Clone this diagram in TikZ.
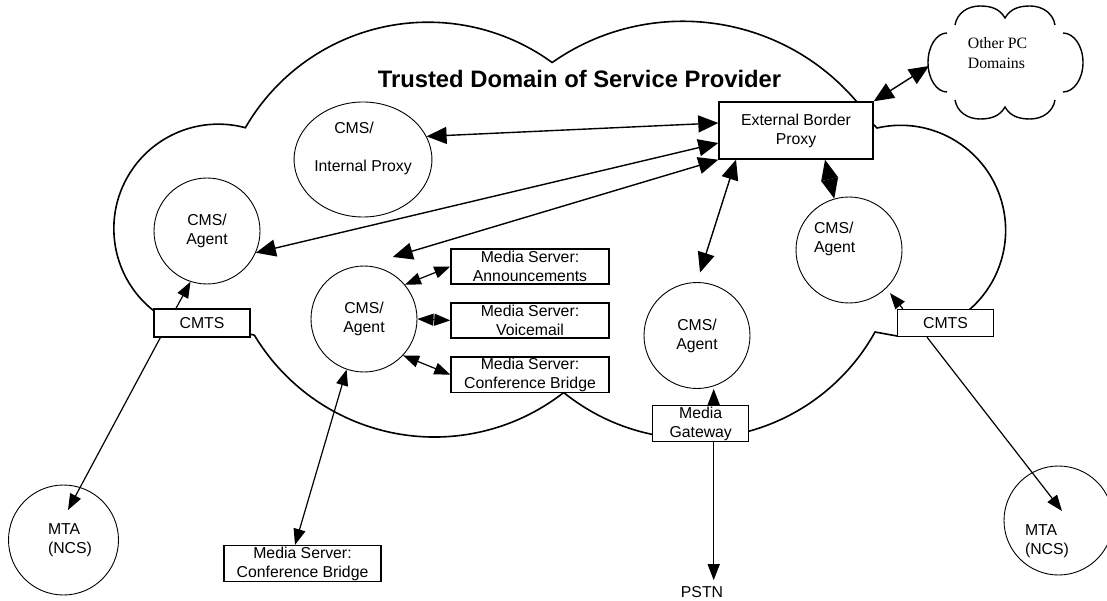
\documentclass[tikz,border=0pt]{standalone}
\usepackage{fontspec}
\setmainfont{Liberation Sans}
\newfontfamily\seriffont{Liberation Serif}
\usepackage{tikz}
\usetikzlibrary{arrows.meta,shapes.geometric,positioning}

\begin{document}
\begin{tikzpicture}[x=1pt,y=1pt,font=\fontsize{15.8}{19}\selectfont,
	box/.style={draw,rectangle,fill=white,line width=1.4pt,align=center,inner sep=1pt},
	agent/.style={draw,circle,fill=white,line width=0.9pt,minimum size=106pt,inner sep=0pt,align=center},
	link/.style={line width=1.4pt,{Triangle[length=20pt,width=17pt]}-{Triangle[length=20pt,width=17pt]}},
	slink/.style={line width=1.2pt,{Triangle[length=16pt,width=12pt]}-{Triangle[length=16pt,width=12pt]}},
	feed/.style={line width=1.2pt,-{Triangle[length=16pt,width=12pt]}}]
					\useasboundingbox (0,0) rectangle (1107,-601);
					\draw[line width=1.6pt] (154,-311) arc[start angle=232,end angle=75,radius=104.5]
						arc[start angle=150,end angle=54,radius=211]
						arc[start angle=125,end angle=40,radius=228] -- (873,-124) -- (877,-128)
						arc[start angle=103,end angle=-49,radius=105] -- (897,-336) -- (875,-332)
						arc[start angle=-29,end angle=-129,radius=207]
						arc[start angle=-52,end angle=-149,radius=210] -- cycle;
					\draw[line width=1.4pt] (955,-25) to[out=80,in=180] (980,-6) to[out=0,in=120] (1005,-18) to[out=60,in=180] (1030,-6) to[out=0,in=100] (1055,-25);
					\draw[line width=1.4pt] (1063,-33) arc[start angle=90,end angle=-90,x radius=20,y radius=29.5];
					\draw[line width=1.4pt] (1055,-100) to[out=-100,in=0] (1030,-119) to[out=180,in=-60] (1005,-107) to[out=-120,in=0] (980,-119) to[out=180,in=-80] (955,-100);
					\draw[line width=1.4pt] (947,-92) arc[start angle=270,end angle=90,x radius=19,y radius=29.5];
										\node[font=\fontsize{23.8}{28}\selectfont\bfseries] (title) at (579.5,-79) {Trusted Domain of Service Provider};
					\node[font=\fontsize{15.8}{20}\seriffont,align=left] (other) at (997.5,-53) {Other PC\\Domains};
					\coordinate (otherL) at (929,-66);
										\node[draw,ellipse,fill=white,line width=0.9pt,minimum width=134pt,minimum height=115pt,inner sep=0pt,align=left] (proxy) at (363,-159.5) {\hspace*{20pt}CMS/\\\strut\\Internal Proxy\\\strut};
					\node[agent] (lagent) at (207,-231) {CMS/\\Agent};
					\node[agent] (magent) at (364,-319) {CMS/\\Agent};
					\node[agent] (gagent) at (697,-335.5) {CMS/\\Agent};
					\node[agent,text width=70pt,align=left] (ragent) at (849,-250) {CMS/\\Agent\\\strut};
					\node[agent,minimum size=110pt,text width=31pt,align=left] (lmta) at (63.5,-540) {MTA\\(NCS)};
					\node[agent,minimum size=109pt,text width=67pt,align=left] (rmta) at (1058.5,-520.5) {\strut\\\strut\\MTA\\(NCS)};
										\node[box,minimum width=154pt,minimum height=57pt] (ebp) at (796,-130.5) {External Border\\Proxy};
					\node[box,minimum width=96pt,minimum height=28pt] (lcmts) at (202,-323) {CMTS};
					\node[box,minimum width=96pt,minimum height=27pt] (rcmts) at (945.5,-323) {CMTS};
					\node[box,minimum width=96pt,minimum height=35pt] (mg) at (700.7,-423.5) {Media\\Gateway};
					\node[box,minimum width=158pt,minimum height=35pt] (ann) at (530,-266.5) {Media Server:\\Announcements};
					\node[box,minimum width=158pt,minimum height=35pt,below=17.5pt of ann] (vm) {Media Server:\\Voicemail};
					\node[box,minimum width=158pt,minimum height=35pt,below=17.5pt of vm] (conf) {Media Server:\\Conference Bridge};
					\node[box,minimum width=157pt,minimum height=35pt] (lconf) at (302.5,-563.5) {Media Server:\\Conference Bridge};
					\node[inner sep=1pt] (pstn) at (702,-592) {PSTN};
										\draw[link] ([yshift=7.5pt]ebp.west) -- (proxy.20);
					\draw[link] ([yshift=-12.5pt]ebp.west) -- (lagent.-24);
					\draw[link,shorten >=30pt] (ebp.south west) -- (magent.north);
					\draw[link,shorten >=10pt] ([xshift=-60pt]ebp.south) -- (gagent.north);
					\draw[link] ([xshift=29pt]ebp.south) -- (ragent.106);
					\draw[link] (ebp.north east) -- (otherL);
										\draw[feed] ([xshift=-26pt]lcmts.north) -- (lagent.-108);
					\draw[feed] ([xshift=7pt]lcmts.south west) -- ([shift={(4.5,30)}]lmta.center);
					\draw[feed,shorten >=6pt] ([xshift=6pt]rcmts.north west) -- (ragent.-46);
					\draw[feed] ([xshift=-18.5pt]rcmts.south) -- ([shift={(3.5,9.5)}]rmta.center);
					\draw[feed] ([xshift=13pt]mg.north) -- ([xshift=13pt]mg.north |- gagent.south);
					\draw[feed,shorten >=5pt] ([xshift=13pt]mg.south) -- ([xshift=13pt]mg.south |- pstn.north);
										\draw[slink] (magent.40) -- (ann.west);
					\draw[slink] (magent.east) -- (vm.west);
					\draw[slink] (magent.-43) -- (conf.west);
					\draw[slink] (magent.-109) -- ([xshift=-7.5pt]lconf.north);
				\end{tikzpicture}
\end{document}
